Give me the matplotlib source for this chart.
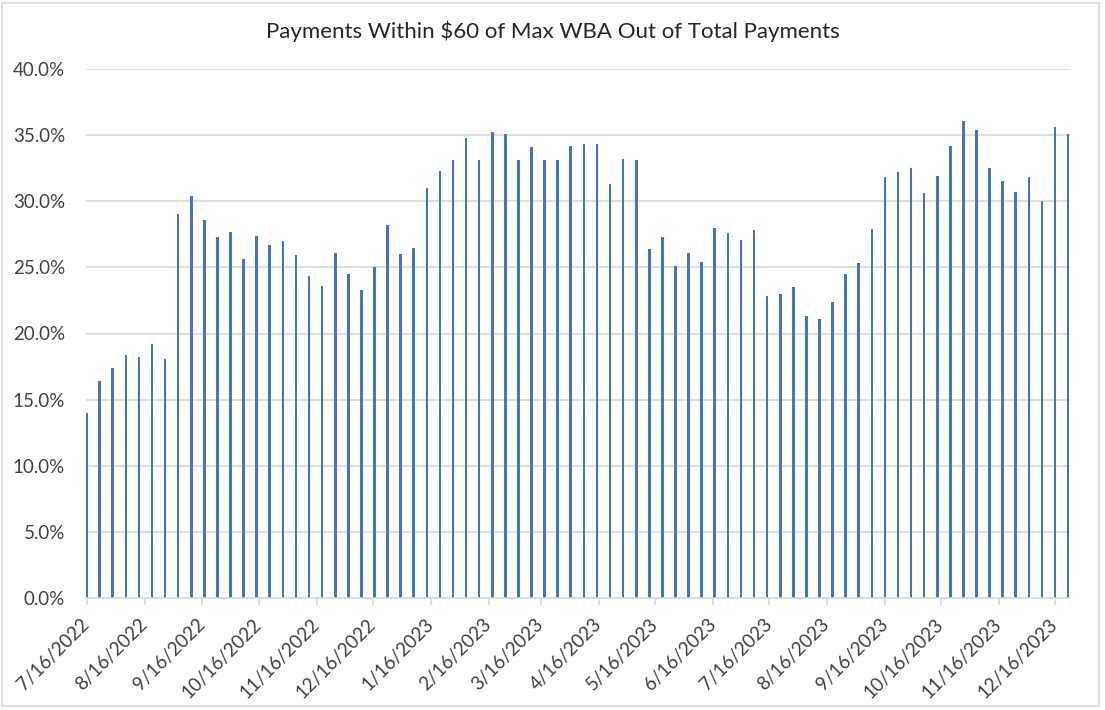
import datetime as dt
import matplotlib
matplotlib.use("Agg")
import matplotlib.pyplot as plt
import matplotlib.dates as mdates
from matplotlib.ticker import FuncFormatter, MultipleLocator
from matplotlib.patches import Rectangle

plt.rcParams['font.family'] = ['Lato', 'DejaVu Sans']

# weekly values (percent), Saturdays starting 7/16/2022
start_date = dt.date(2022, 7, 16)
share_pct = [
    14.0, 16.4, 17.4, 18.4, 18.2, 19.2, 18.05, 29.0, 30.4, 28.6,
    27.3, 27.7, 25.6, 27.4, 26.7, 27.0, 25.9, 24.35, 23.6, 26.1,
    24.5, 23.3, 25.0, 28.2, 26.0, 26.5, 31.0, 32.3, 33.1, 34.8,
    33.1, 35.2, 35.1, 33.1, 34.1, 33.1, 33.1, 34.2, 34.3, 34.3,
    31.3, 33.2, 33.1, 26.4, 27.3, 25.1, 26.1, 25.4, 28.0, 27.6,
    27.1, 27.8, 22.8, 23.0, 23.5, 21.3, 21.1, 22.4, 24.5, 25.3,
    27.9, 31.8, 32.2, 32.5, 30.6, 31.9, 34.2, 36.1, 35.4, 32.5,
    31.5, 30.7, 31.8, 30.0, 35.6, 35.1,
]
weeks = [start_date + dt.timedelta(weeks=i) for i in range(len(share_pct))]
values = [v / 100 for v in share_pct]

title = "Payments Within $60 of Max WBA Out of Total Payments"
bar_color = "#4472C4"
grid_color = "#D9D9D9"
text_color = "#404040"

fig = plt.figure(figsize=(11.05, 7.10), dpi=100)
ax = fig.add_axes([86 / 1105, 1 - 598 / 710, (1070 - 86) / 1105, (598 - 69) / 710])

ax.bar(weeks, values, width=1.4, color=bar_color, zorder=3)

ax.set_ylim(0, 0.40)
ax.yaxis.set_major_locator(MultipleLocator(0.05))
ax.yaxis.set_major_formatter(FuncFormatter(lambda v, p: f"{v * 100:.1f}%"))
ax.grid(axis='y', color=grid_color, linewidth=1.2, zorder=0)
ax.tick_params(axis='y', length=0, pad=15, labelsize=13.5, labelcolor=text_color)

ax.set_xlim(mdates.date2num(start_date) - 0.3, mdates.date2num(weeks[-1]) + 1)
ax.xaxis.set_major_locator(mdates.MonthLocator(bymonthday=16))
ax.xaxis.set_major_formatter(FuncFormatter(
    lambda v, p: f"{mdates.num2date(v).month}/{mdates.num2date(v).day}/{mdates.num2date(v).year}"))
ax.tick_params(axis='x', length=5, color=grid_color, width=1.2, labelsize=13.5,
               labelcolor=text_color, pad=12)
for lbl in ax.get_xticklabels():
    lbl.set_rotation(45)
    lbl.set_ha('right')
    lbl.set_va('center')
    lbl.set_rotation_mode('anchor')

for side in ['top', 'right', 'left']:
    ax.spines[side].set_visible(False)
ax.spines['bottom'].set_color(grid_color)
ax.spines['bottom'].set_linewidth(1.2)
ax.spines['bottom'].set_zorder(4)

fig.text(553 / 1105, 1 - 31 / 710, title, ha='center', va='center', fontsize=16, color='#262626')

# light border round the chart area
fig.patches.append(Rectangle((2 / 1105, 4 / 710), 1097 / 1105, 703 / 710, transform=fig.transFigure,
                             fill=False, edgecolor=grid_color, linewidth=1.2))

fig.savefig("out.png", dpi=100, facecolor='white')
